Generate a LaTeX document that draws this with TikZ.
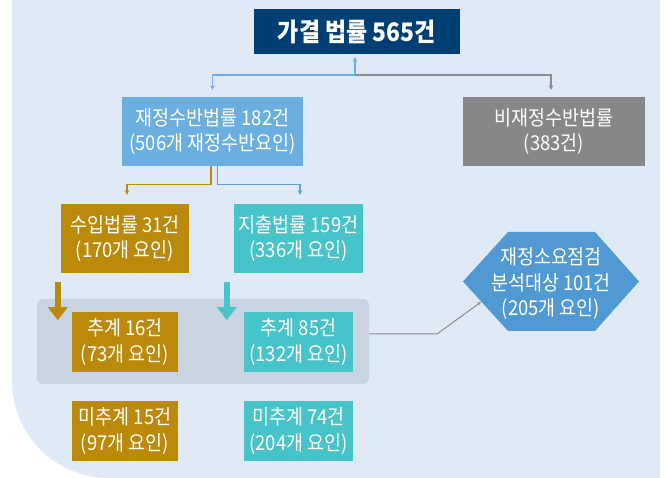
\documentclass[tikz,border=0pt]{standalone}
\usepackage{fontspec}
\setmainfont[FakeStretch=0.9]{Noto Sans CJK KR}
\usetikzlibrary{arrows.meta}
\definecolor{bgc}{HTML}{DFEAF6}
\definecolor{navy}{HTML}{003F74}
\definecolor{lblue}{HTML}{6BAEE0}
\definecolor{boxgray}{HTML}{87878A}
\definecolor{gold}{HTML}{BB8A0A}
\definecolor{tealc}{HTML}{47C3CA}
\definecolor{grpc}{HTML}{C9D4E1}
\definecolor{hexc}{HTML}{5099D2}
\definecolor{linegray}{HTML}{8C8C8E}
\definecolor{lineblue}{HTML}{5A9FDC}
\begin{document}
\begin{tikzpicture}[x=1pt,y=-1pt,
  box/.style={inner sep=0pt, align=center, text=white, font=\fontsize{20.5}{25.5}\selectfont},
  thinarrow/.style={line width=1.3pt, -{Stealth[length=4.5pt,width=4.5pt]}},
  fatarrow/.style={line width=6pt, -{Triangle[width=19pt,length=13pt]}}]
\fill[white] (0,0) rectangle (665,478);
\fill[bgc] (12,0) -- (660,0) -- (660,478) -- (110,478) .. controls (55,478) and (12,435) .. (12,380) -- cycle;
\useasboundingbox (0,0) rectangle (665,478);

\node[box, fill=navy, minimum width=206, minimum height=45, font=\fontsize{25.5}{30}\selectfont\bfseries] (top) at (357,31.5) {가결 법률 565건};
\node[box, fill=lblue, minimum width=181, minimum height=69] (jae) at (212.5,131.5) {재정수반법률 182건\\(506개 재정수반요인)};
\node[box, fill=boxgray, minimum width=182, minimum height=69] (bi) at (554,131.5) {비재정수반법률\\(383건)};
\node[box, fill=gold, minimum width=128, minimum height=69] (sui) at (125,238.5) {수입법률 31건\\(170개 요인)};
\node[box, fill=tealc, minimum width=129, minimum height=69] (ji) at (298.5,238.5) {지출법률 159건\\(336개 요인)};
\node[fill=grpc, rounded corners=6pt, minimum width=332, minimum height=85, inner sep=0pt] (grp) at (203,341.5) {};
\node[box, fill=gold, minimum width=106, minimum height=60] (c1) at (125,342) {추계 16건\\(73개 요인)};
\node[box, fill=tealc, minimum width=109, minimum height=60] (c2) at (298.5,342) {추계 85건\\(132개 요인)};
\node[box, fill=gold, minimum width=106, minimum height=60] (m1) at (125,431) {미추계 15건\\(97개 요인)};
\node[box, fill=tealc, minimum width=109, minimum height=60] (m2) at (298.5,431) {미추계 74건\\(204개 요인)};

\fill[hexc] (463,281.5) -- (508,232) -- (595,232) -- (639,281.5) -- (595,331) -- (508,331) -- cycle;
\node[box] (hex) at (551,284) {재정소요점검\\분석대상 101건\\(205개 요인)};
\coordinate (hexin) at (481,302);

% top branch
\coordinate (br) at (355,75);
\draw[lblue, thinarrow, shorten >=3pt] (br) -- (br |- top.south);
\draw[lblue, thinarrow, shorten >=7pt] (br) -| (jae.north);
\draw[linegray, thinarrow, shorten >=7pt] (br) -| ([xshift=-3pt]bi.north);

% second branch
\draw[gold, thinarrow, shorten >=9pt] ([xshift=-1.5pt]jae.south) -- ++(0,18) -| ([xshift=2pt]sui.north);
\draw[lineblue, thinarrow, shorten >=9pt] ([xshift=5pt]jae.south) -- ++(0,18) -| ([xshift=1.5pt]ji.north);

% fat arrows
\coordinate (fa1) at ([xshift=-3pt,yshift=-9pt]sui.south west);
\coordinate (fa2) at ([xshift=-7pt,yshift=-9pt]ji.south west);
\draw[gold, fatarrow] (fa1) -- ++(0,38);
\draw[tealc, fatarrow] (fa2) -- ++(0,38);

% connector to hexagon
\draw[linegray, line width=1pt, -{Stealth[length=4pt,width=3.5pt]}] ([yshift=7.5pt]grp.east) -- (437,334) -- (hexin);
\end{tikzpicture}
\end{document}
